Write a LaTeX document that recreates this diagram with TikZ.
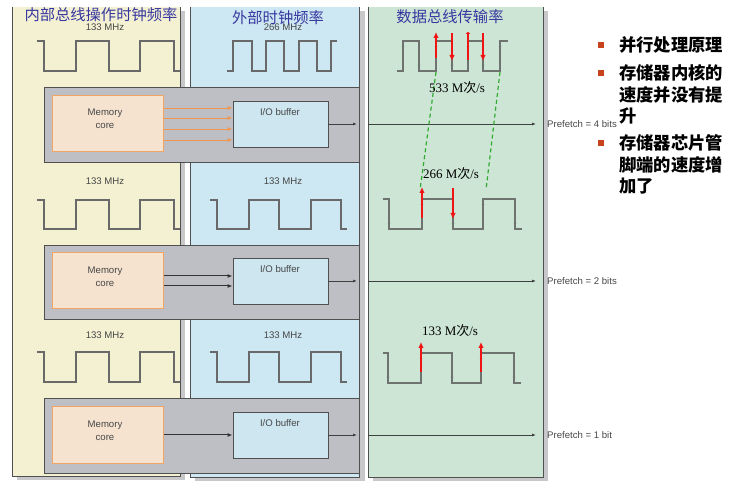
\documentclass[tikz,border=0pt]{standalone}
\usepackage{fontspec}
\setmainfont{Liberation Serif}
\newfontfamily\arialf{Liberation Sans}
\newfontfamily\cjk{Noto Sans CJK SC}
\usetikzlibrary{arrows.meta}
\definecolor{colone}{RGB}{243,241,210}
\definecolor{coltwo}{RGB}{205,232,242}
\definecolor{colthree}{RGB}{205,229,212}
\definecolor{shadowgray}{RGB}{200,200,202}
\definecolor{boxgray}{RGB}{190,191,197}
\definecolor{mcfill}{RGB}{245,227,207}
\definecolor{mcdraw}{RGB}{240,165,100}
\definecolor{iofill}{RGB}{205,230,240}
\definecolor{linegray}{RGB}{80,80,80}
\definecolor{wavegray}{RGB}{105,105,105}
\definecolor{busgray}{RGB}{110,115,112}
\definecolor{labgray}{RGB}{70,70,70}
\definecolor{arrorange}{RGB}{240,150,80}
\definecolor{titleblue}{RGB}{55,55,160}
\definecolor{dgreen}{RGB}{50,170,50}
\definecolor{bulletred}{RGB}{200,66,30}
\definecolor{redarrow}{RGB}{240,20,20}
\begin{document}
\begin{tikzpicture}[x=1pt,y=-1pt,
  lbl/.style={font=\arialf\fontsize{9.6}{11}\selectfont, text=labgray, inner sep=0},
  titletext/.style={font=\cjk\fontsize{15.3}{17}\selectfont, text=titleblue, inner sep=0},
  rate/.style={font=\fontsize{13}{15}\selectfont, inner sep=0},
  graybox/.style={fill=boxgray, draw=linegray, line width=0.9pt, inner sep=0},
  mcbox/.style={fill=mcfill, draw=mcdraw, line width=1pt, inner sep=0},
  iobox/.style={fill=iofill, draw=linegray, line width=0.9pt, inner sep=0},
  clk/.style={draw=wavegray, line width=1.3pt},
  bus/.style={draw=busgray, line width=1.8pt},
  edgetip/.style={draw=busgray, line width=1pt, -{Latex[length=3pt,width=3pt]}},
  oarr/.style={draw=arrorange, line width=0.9pt, -{Latex[length=5pt,width=4pt]}},
  barr/.style={draw=black!80, line width=1pt, -{Latex[length=5pt,width=4pt]}},
  outarr/.style={draw=black!75, line width=0.8pt, -{Latex[length=4pt,width=3pt]}},
  redarr/.style={draw=redarrow, line width=1.4pt, -{Latex[length=6pt,width=5.5pt]}},
  redbar/.style={draw=redarrow, line width=1.4pt, -{Latex[length=2pt,width=5.5pt]}},
  gdash/.style={draw=dgreen, line width=1.2pt, dash pattern=on 4pt off 3pt},
  bulletsq/.style={fill=bulletred, minimum size=6.5pt, inner sep=0},
  rtext/.style={font=\cjk\bfseries\fontsize{17.3}{20}\selectfont, anchor=west, inner sep=0}
]
\useasboundingbox (0,0) rectangle (740,489);
% shadows
\fill[shadowgray] (17,11) rectangle (185,480);
\fill[shadowgray] (195,11) rectangle (365,481);
\fill[shadowgray] (373,11) rectangle (548,481);
% columns
\fill[colone] (12,7) rectangle (180,476);
\draw[linegray, line width=0.9pt] (12,7) -- (12,476) -- (180,476) -- (180,7);
\fill[coltwo] (190,7) rectangle (359,477);
\draw[linegray, line width=0.9pt] (190,7) -- (190,477) -- (359,477) -- (359,7);
\fill[colthree] (368,7) rectangle (543,477);
\draw[linegray, line width=0.9pt] (368,7) -- (368,477) -- (543,477) -- (543,7);

% clock labels
\node[lbl] (f1a) at (105,27) {133 MHz};
\node[lbl] (f1b) at (283,27) {266 MHz};
\node[lbl] (f2a) at (105,181) {133 MHz};
\node[lbl] (f2b) at (283,181) {133 MHz};
\node[lbl] (f3a) at (105,335) {133 MHz};
\node[lbl] (f3b) at (283,335) {133 MHz};

% titles
\node[titletext] (t1) at (101,15) {内部总线操作时钟频率};
\node[titletext] (t2) at (278,18) {外部时钟频率};
\node[titletext] (t3) at (450,16.5) {数据总线传输率};

% clocks column 1
\foreach \h/\l in {41/71, 200/229, 352/382}{
  \draw[clk] (37,\h) -- (44,\h) -- (44,\l) -- (76,\l) -- (76,\h) -- (109,\h) -- (109,\l) -- (140,\l) -- (140,\h) -- (174,\h) -- (174,\l) -- (180,\l);
}
% clocks column 2
\draw[clk] (227,71) -- (233,71) -- (233,41) -- (252,41) -- (252,71) -- (266,71) -- (266,41) -- (284,41) -- (284,71) -- (299,71) -- (299,41) -- (317,41) -- (317,71) -- (331,71) -- (331,41) -- (337,41);
\foreach \h/\l in {200/229, 352/382}{
  \draw[clk] (210,\h) -- (217,\h) -- (217,\l) -- (249,\l) -- (249,\h) -- (279,\h) -- (279,\l) -- (311,\l) -- (311,\h) -- (341,\h) -- (341,\l) -- (347,\l);
}

% row 1 boxes
\node[graybox, minimum width=315pt, minimum height=75pt] (g1) at (201.5,124.5) {};
\node[mcbox, minimum width=111pt, minimum height=56pt] (mc1) at (107.5,124) {};
\node[iobox, minimum width=95pt, minimum height=46pt] (io1) at (280.5,124) {};
\node[lbl, align=center, font=\arialf\fontsize{9.6}{13}\selectfont] (mc1t) at (105,118.5) {Memory\\core};
\node[lbl] (io1t) at (280,112) {I/O buffer};
\foreach \yy in {108,118,129,140}{
  \draw[oarr] (mc1.east |- 0,\yy) -- (io1.west |- 0,\yy);
}
\coordinate (e1) at (357,124);
\draw[outarr] (io1.east) -- (e1);

% row 2 boxes
\node[graybox, minimum width=315pt, minimum height=74pt] (g2) at (201.5,282) {};
\node[mcbox, minimum width=111pt, minimum height=56pt] (mc2) at (107.5,281) {};
\node[iobox, minimum width=95pt, minimum height=46pt] (io2) at (280.5,281) {};
\node[lbl, align=center, font=\arialf\fontsize{9.6}{13}\selectfont] (mc2t) at (105,276.5) {Memory\\core};
\node[lbl] (io2t) at (280,269) {I/O buffer};
\foreach \yy in {276,286}{
  \draw[barr] (mc2.east |- 0,\yy) -- (io2.west |- 0,\yy);
}
\coordinate (e2) at (357,281);
\draw[outarr] (io2.east) -- (e2);

% row 3 boxes
\node[graybox, minimum width=315pt, minimum height=75pt] (g3) at (201.5,435.5) {};
\node[mcbox, minimum width=111pt, minimum height=56pt] (mc3) at (107.5,435) {};
\node[iobox, minimum width=95pt, minimum height=46pt] (io3) at (280.5,435) {};
\node[lbl, align=center, font=\arialf\fontsize{9.6}{13}\selectfont] (mc3t) at (105,430.5) {Memory\\core};
\node[lbl] (io3t) at (280,423) {I/O buffer};
\draw[barr] (mc3.east |- 0,435) -- (io3.west |- 0,435);
\coordinate (e3) at (357,435);
\draw[outarr] (io3.east) -- (e3);

% prefetch labels and data bus lines
\node[lbl, anchor=west] (pf1) at (547,124) {Prefetch = 4 bits};
\node[lbl, anchor=west] (pf2) at (547,281) {Prefetch = 2 bits};
\node[lbl, anchor=west] (pf3) at (547,435) {Prefetch = 1 bit};
\coordinate (s1) at (368,124);
\coordinate (s2) at (368,281);
\coordinate (s3) at (368,435);
\draw[outarr, shorten >=11pt] (s1) -- (pf1.west);
\draw[outarr, shorten >=11pt] (s2) -- (pf2.west);
\draw[outarr, shorten >=11pt] (s3) -- (pf3.west);

% data bus waveform row 1
\draw[bus] (397,71) -- (403,71) -- (403,41) -- (419,41) -- (419,71) -- (436,71) -- (436,41) -- (452,41) -- (452,71) -- (468,71) -- (468,41) -- (483,41) -- (483,71) -- (500,71) -- (500,41) -- (508,41);
\foreach \xx in {403,436,468,500}{ \draw[edgetip] (\xx,60) -- (\xx,44); }
\foreach \xx in {419,452,483}{ \draw[edgetip] (\xx,52) -- (\xx,68); }
% row 2
\draw[bus] (383,199) -- (389,199) -- (389,229) -- (422,229) -- (422,199) -- (453,199) -- (453,229) -- (483,229) -- (483,199) -- (515,199) -- (515,229) -- (522,229);
\foreach \xx in {422,483}{ \draw[edgetip] (\xx,218) -- (\xx,202); }
\foreach \xx in {389,453,515}{ \draw[edgetip] (\xx,210) -- (\xx,226); }
% row 3
\draw[bus] (383,353) -- (388,353) -- (388,383) -- (421,383) -- (421,353) -- (452,353) -- (452,383) -- (481,383) -- (481,353) -- (514,353) -- (514,383) -- (521,383);
\foreach \xx in {421,481}{ \draw[edgetip] (\xx,372) -- (\xx,356); }
\foreach \xx in {388,452,514}{ \draw[edgetip] (\xx,364) -- (\xx,380); }

% red arrows
\draw[redarr] (436,58) -- (436,32);
\draw[redarr] (452,33) -- (452,61);
\draw[redbar] (468,60) -- (468,32);
\draw[redarr] (483,33) -- (483,61);
\draw[redarr] (422,218) -- (422,187);
\draw[redarr] (453,188) -- (453,219);
\draw[redarr] (421,372) -- (421,342);
\draw[redarr] (481,372) -- (481,342);

% green dashed lines
\draw[gdash] (436,72) -- (420,190);
\draw[gdash] (500,72) -- (486,190);

% rate labels
\node[rate] (r1) at (457,88) {533 M{\cjk 次}/s};
\node[rate] (r2) at (451,174) {266 M{\cjk 次}/s};
\node[rate] (r3) at (450,331) {133 M{\cjk 次}/s};

% right-hand bullet text
\node[bulletsq] (b1) at (601,45) {};
\node[bulletsq] (b2) at (601,73) {};
\node[bulletsq] (b3) at (601,143) {};
\node[rtext] (l1) at (619,45) {并行处理原理};
\node[rtext] (l2) at (619,73) {存储器内核的};
\node[rtext] (l3) at (619,95) {速度并没有提};
\node[rtext] (l4) at (619,116) {升};
\node[rtext] (l5) at (619,143) {存储器芯片管};
\node[rtext] (l6) at (619,165) {脚端的速度增};
\node[rtext] (l7) at (619,186) {加了};
\end{tikzpicture}
\end{document}
